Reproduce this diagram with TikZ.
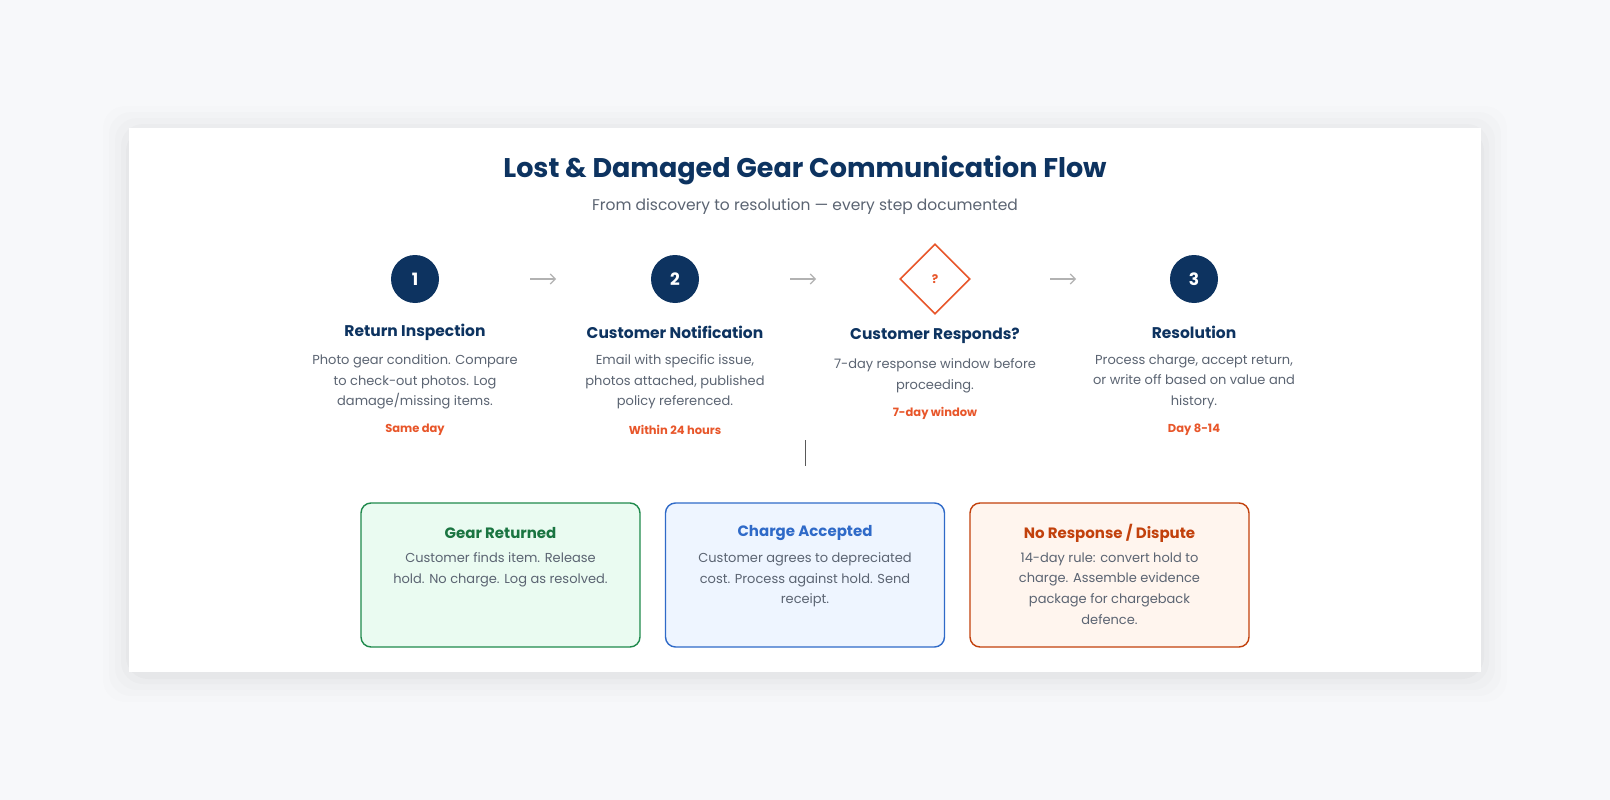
\documentclass[tikz,border=0pt]{standalone}
\usepackage{fontspec}
\setmainfont{Poppins}
\usetikzlibrary{shapes.geometric,arrows.meta}
\definecolor{navy}{HTML}{0D3360}
\definecolor{accent}{HTML}{E8562A}
\definecolor{bodygray}{HTML}{5B6472}
\definecolor{bggray}{HTML}{F7F8FA}
\definecolor{okgreen}{HTML}{1F8A4C}
\definecolor{okfill}{HTML}{EAFBF1}
\definecolor{okblue}{HTML}{2F6AC8}
\definecolor{bluefill}{HTML}{EEF5FF}
\definecolor{badred}{HTML}{C2410C}
\definecolor{redfill}{HTML}{FFF5EE}
\tikzset{
  stepnum/.style={circle,fill=navy,minimum size=48pt,inner sep=0pt,text=white,font=\fontsize{17}{20}\selectfont\bfseries},
  stepquery/.style={diamond,draw=accent,line width=1.6pt,fill=white,minimum size=70pt,inner sep=0pt,text=accent,font=\fontsize{12}{14}\selectfont\bfseries},
  steptitle/.style={text=navy,font=\fontsize{15.5}{18}\selectfont\bfseries},
  stepdesc/.style={text=bodygray,align=center,font=\fontsize{13}{20.7}\selectfont},
  steptime/.style={text=accent,font=\fontsize{11.5}{14}\selectfont\bfseries},
  flowarrow/.style={-{Straight Barb[length=5pt,width=10pt]},draw=gray!60,line width=1.1pt},
  outbox/.style={rounded corners=10pt,line width=1.4pt,minimum width=279pt,minimum height=144pt}
}
\begin{document}
\begin{tikzpicture}[x=1pt,y=-1pt]
  \useasboundingbox (0,0) rectangle (1610,800);
  \fill[bggray] (0,0) rectangle (1610,800);
  % card with soft shadow
  \foreach \s/\o in {26/0.008,20/0.01,14/0.012,8/0.015,3/0.02}
    \fill[black,opacity=\o,rounded corners=22pt] (129-\s,128-\s+4) rectangle (1481+\s,672+\s+4);
  \fill[white] (129,128) rectangle (1481,672);
  \node[text=navy,font=\fontsize{27}{31}\selectfont\bfseries] (title) at (805,170) {Lost \& Damaged Gear Communication Flow};
  \node[text=bodygray,font=\fontsize{15.5}{18}\selectfont] (subtitle) at (805,207) {From discovery to resolution — every step documented};
  % steps
  \node[stepnum] (s1) at (415,279) {1};
  \node[stepnum] (s2) at (675,279) {2};
  \node[stepquery] (s3) at (935,279) {?};
  \node[stepnum] (s4) at (1194,279) {3};
  \draw[flowarrow] (530,279) -- (556,279);
  \draw[flowarrow] (790,279) -- (816,279);
  \draw[flowarrow] (1050,279) -- (1076,279);
  \node[steptitle] (t1) at (415,332) {Return Inspection};
  \node[steptitle] (t2) at (675,332) {Customer Notification};
  \node[steptitle] (t3) at (935,336) {Customer Responds?};
  \node[steptitle] (t4) at (1194,332) {Resolution};
  \node[stepdesc,anchor=north] (d1) at (415,351) {Photo gear condition. Compare\\to check-out photos. Log\\damage/missing items.};
  \node[stepdesc,anchor=north] (d2) at (675,351) {Email with specific issue,\\photos attached, published\\policy referenced.};
  \node[stepdesc,anchor=north] (d3) at (935,355) {7-day response window before\\proceeding.};
  \node[stepdesc,anchor=north] (d4) at (1194,351) {Process charge, accept return,\\or write off based on value and\\history.};
  \node[steptime] (m1) at (415,430) {Same day};
  \node[steptime] (m2) at (675,430) {Within 24 hours};
  \node[steptime] (m3) at (935,413) {7-day window};
  \node[steptime] (m4) at (1194,430) {Day 8-14};
  \coordinate (br) at (805,440);
  \coordinate (bt) at (805,466);
  \draw[gray!70!black,line width=1pt] (br) -- (bt);
  % outcomes
  \node[outbox,draw=okgreen,fill=okfill] (o1) at (500.5,575) {};
  \node[outbox,draw=okblue,fill=bluefill] (o2) at (805,575) {};
  \node[outbox,draw=badred,fill=redfill] (o3) at (1109.5,575) {};
  \node[text=okgreen!85!black,font=\fontsize{15}{18}\selectfont\bfseries] at (500.5,533) {Gear Returned};
  \node[text=okblue,font=\fontsize{15}{18}\selectfont\bfseries] at (805,533) {Charge Accepted};
  \node[text=badred,font=\fontsize{15}{18}\selectfont\bfseries] at (1109.5,533) {No Response / Dispute};
  \node[stepdesc,anchor=north] at (500.5,549) {Customer finds item. Release\\hold. No charge. Log as resolved.};
  \node[stepdesc,anchor=north] at (805,549) {Customer agrees to depreciated\\cost. Process against hold. Send\\receipt.};
  \node[stepdesc,anchor=north] at (1109.5,549) {14-day rule: convert hold to\\charge. Assemble evidence\\package for chargeback\\defence.};
\end{tikzpicture}
\end{document}
